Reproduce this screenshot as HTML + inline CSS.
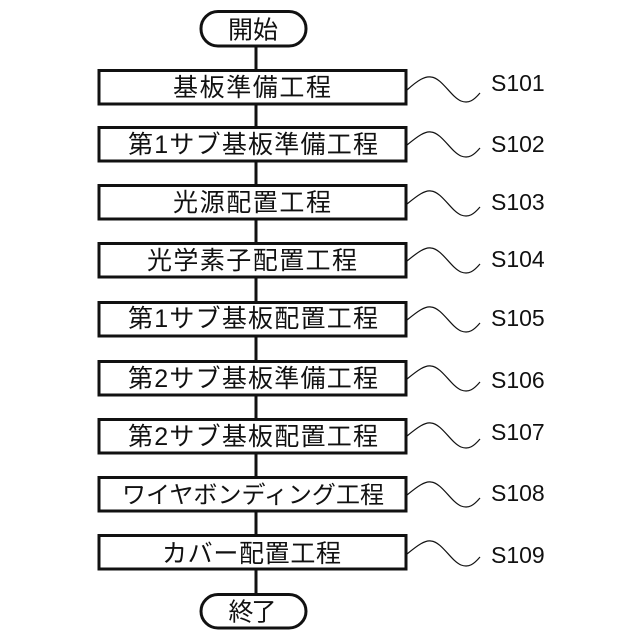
<!DOCTYPE html>
<html lang="ja"><head><meta charset="utf-8"><style>
html,body{margin:0;padding:0;background:#fff}
svg{display:block}
text{font-family:"Liberation Sans","Noto Sans CJK JP",sans-serif;fill:#111}
.b{font-size:25px;text-anchor:middle}
.n{font-size:24px}
.s{font-family:"Liberation Sans",sans-serif;font-size:23px}
rect{fill:#fff;stroke:#111;stroke-width:3}
.w{fill:none;stroke:#111;stroke-width:1.2}
</style></head><body>
<svg width="640" height="640" viewBox="0 0 640 640" xmlns="http://www.w3.org/2000/svg">
<line x1="256" y1="46" x2="256" y2="594" stroke="#111" stroke-width="3"/>
<rect x="201" y="11.500" width="105" height="34.500" rx="17" ry="17"/>
<rect x="99" y="70.500" width="307" height="33.500"/>
<rect x="99" y="127.500" width="307" height="33.500"/>
<rect x="99" y="185.500" width="307" height="33.500"/>
<rect x="99" y="243.500" width="307" height="33.500"/>
<rect x="99" y="302.500" width="307" height="33.500"/>
<rect x="99" y="361.500" width="307" height="33.500"/>
<rect x="99" y="419.500" width="307" height="33.500"/>
<rect x="99" y="477.500" width="307" height="33.500"/>
<rect x="99" y="535.500" width="307" height="33.500"/>
<rect x="201" y="594.500" width="105" height="33.500" rx="17" ry="17"/>
<text class="b" x="253" y="38.500" textLength="50" lengthAdjust="spacing">開始</text>
<text class="b" x="252" y="96" textLength="158" lengthAdjust="spacing">基板準備工程</text>
<text class="b" x="253" y="153" textLength="250" lengthAdjust="spacing">第1サブ基板準備工程</text>
<text class="b" x="252" y="211" textLength="158" lengthAdjust="spacing">光源配置工程</text>
<text class="b" x="252" y="269" textLength="210" lengthAdjust="spacing">光学素子配置工程</text>
<text class="b" x="253" y="327" textLength="250" lengthAdjust="spacing">第1サブ基板配置工程</text>
<text class="b" x="253" y="387" textLength="250" lengthAdjust="spacing">第2サブ基板準備工程</text>
<text class="b" x="253" y="445" textLength="250" lengthAdjust="spacing">第2サブ基板配置工程</text>
<text class="b n" x="253" y="503" textLength="262" lengthAdjust="spacing">ワイヤボンディング工程</text>
<text class="b" x="251.500" y="562" textLength="179" lengthAdjust="spacing">カバー配置工程</text>
<text class="b" x="252.500" y="620.500" textLength="48" lengthAdjust="spacing">終了</text>
<g class="w">
<path class="w" d="M407 90C418 80 425 76 431 77C442 78 451 97 461 101C469 104 474 100 480 93"/>
<path class="w" d="M407 145C418 136 425 131 431 132C442 133 451 152 461 156C469 159 474 155 480 148"/>
<path class="w" d="M407 204C418 195 425 190 431 191C442 192 451 211 461 215C469 218 474 214 480 207"/>
<path class="w" d="M407 261C418 252 425 247 431 248C442 249 451 268 461 272C469 275 474 271 480 264"/>
<path class="w" d="M407 320C418 311 425 306 431 307C442 308 451 327 461 331C469 334 474 330 480 323"/>
<path class="w" d="M407 379C418 370 425 365 431 366C442 367 451 386 461 390C469 393 474 389 480 382"/>
<path class="w" d="M407 436C418 427 425 422 431 423C442 424 451 443 461 447C469 450 474 446 480 439"/>
<path class="w" d="M407 495C418 486 425 481 431 482C442 483 451 502 461 506C469 509 474 505 480 498"/>
<path class="w" d="M407 554C418 545 425 540 431 541C442 542 451 561 461 565C469 568 474 564 480 557"/>
</g>
<text class="s" x="491" y="91">S101</text>
<text class="s" x="491" y="152">S102</text>
<text class="s" x="491" y="210">S103</text>
<text class="s" x="491" y="267">S104</text>
<text class="s" x="491" y="326">S105</text>
<text class="s" x="491" y="388">S106</text>
<text class="s" x="491" y="440">S107</text>
<text class="s" x="491" y="501">S108</text>
<text class="s" x="491" y="563">S109</text>
</svg>
</body></html>
